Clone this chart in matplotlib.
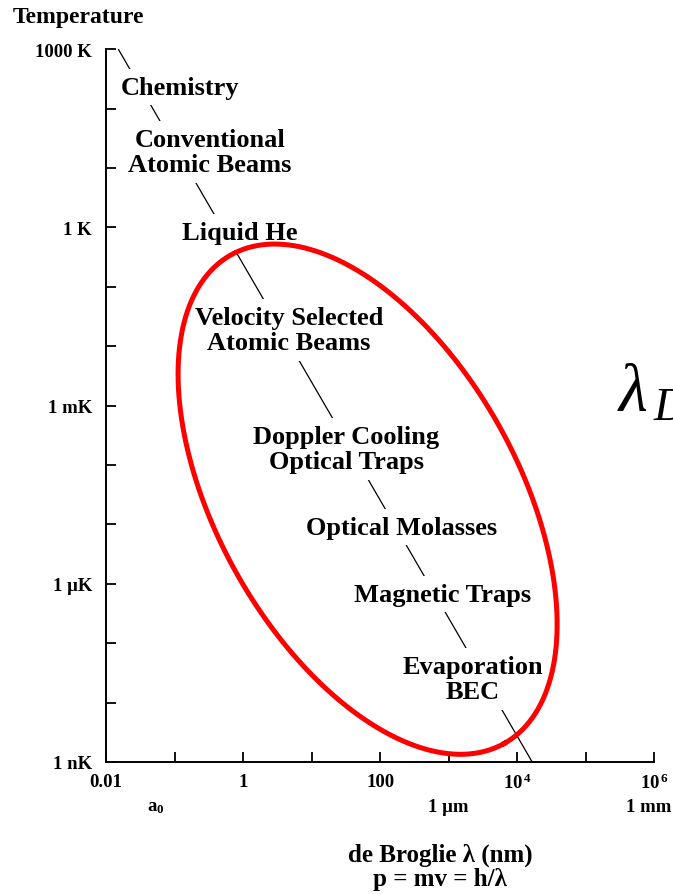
import numpy as np
import matplotlib
matplotlib.use("Agg")
import matplotlib.pyplot as plt
from matplotlib.transforms import blended_transform_factory

plt.rcParams['font.family'] = ['Liberation Serif', 'DejaVu Serif']
plt.rcParams['mathtext.fontset'] = 'custom'
plt.rcParams['mathtext.rm'] = 'Liberation Serif'
plt.rcParams['mathtext.bf'] = 'Liberation Serif:bold'
plt.rcParams['mathtext.it'] = 'Liberation Serif:italic'

# ---- data ----
line_T = [1e3, 1e-9]                 # K
line_lam = [0.0151, 1.66e4]          # nm

labels = ["Chemistry", "Conventional\nAtomic Beams", "Liquid He",
          "Velocity Selected\nAtomic Beams", "Doppler Cooling\nOptical Traps",
          "Optical Molasses", "Magnetic Traps", "Evaporation\nBEC"]
label_lam = [0.12, 0.33, 0.90, 4.7, 31.9, 209, 803, 2280]
label_T = [229, 18.4, 0.83, 0.0186, 1.85e-4, 9.0e-6, 6.7e-7, 2.5e-8]

y_ticks = [1e3, 1e2, 1e1, 1e0, 1e-1, 1e-2, 1e-3, 1e-4, 1e-5, 1e-6, 1e-7, 1e-8, 1e-9]
y_ticklabels = ["1000 K", "", "", "1 K", "", "", "1 mK", "", "", "1 \u03bcK", "", "", "1 nK"]
x_ticks = [1e-2, 1e-1, 1e0, 1e1, 1e2, 1e3, 1e4, 1e5, 1e6]
x_ticklabels = ["0.01", "", "1", "", "100", "", r"$\mathbf{10^{\,4}}$", "", r"$\mathbf{10^{\,6}}$"]
x_units_pos = [0.0529, 1e3, 1e6]
x_units_lab = [r"$\mathbf{a_{0}}$", "1 \u03bcm", "1 mm"]

# highlight ellipse in log10 decades: centre, and two conjugate half-axis vectors
ell_center = (1.818, -4.576)
ell_u = (1.993, -4.113)
ell_v = (1.918, 1.236)

# ---- figure ----
fig = plt.figure(figsize=(6.73, 8.95), dpi=100)
ax = fig.add_axes([0.1575, 0.1475, 0.8145, 0.7965])
ax.set_xscale('log')
ax.set_yscale('log')
ax.set_xlim(1e-2, 1e6)
ax.set_ylim(1e-9, 1e3)

for s in ['top', 'right']:
    ax.spines[s].set_visible(False)
for s in ['left', 'bottom']:
    ax.spines[s].set_linewidth(1.4)

ax.set_yticks(y_ticks)
ax.set_yticklabels(y_ticklabels)
ax.set_xticks(x_ticks)
ax.set_xticklabels(x_ticklabels)
ax.minorticks_off()
ax.tick_params(axis='both', which='major', direction='in', length=7, width=1.3,
               labelsize=13.5)
ax.tick_params(axis='y', pad=10)
ax.tick_params(axis='x', pad=8)
for t in ax.get_xticklabels() + ax.get_yticklabels():
    t.set_fontweight('bold')

ax.plot(line_lam, line_T, color='black', lw=0.9, zorder=2, solid_capstyle='butt')

for txt, lx, ty in zip(labels, label_lam, label_T):
    ax.text(lx, ty, txt, ha='center', va='center', multialignment='center',
            fontsize=19, fontweight='bold', linespacing=1.13, zorder=3,
            bbox=dict(boxstyle='square,pad=0.25', fc='white', ec='none'))

t = np.linspace(0, 2 * np.pi, 400)
ex = ell_center[0] + ell_u[0] * np.cos(t) + ell_v[0] * np.sin(t)
ey = ell_center[1] + ell_u[1] * np.cos(t) + ell_v[1] * np.sin(t)
ax.plot(10 ** ex, 10 ** ey, color='#ff0000', lw=3.6, zorder=4, clip_on=False)

trans = blended_transform_factory(ax.transData, ax.transAxes)
x_offsets = [0, 0, -4]
for px, lab, dx in zip(x_units_pos, x_units_lab, x_offsets):
    ax.annotate(lab, xy=(px, 0), xycoords=trans, xytext=(dx, -32),
                textcoords='offset points', ha='center', va='center',
                fontsize=13.5, fontweight='bold', annotation_clip=False)

fig.text(13 / 673, 1 - 18 / 895, "Temperature", ha='left', va='center',
         fontsize=17, fontweight='bold')
fig.text(440 / 673, 1 - 855 / 895, "de Broglie \u03bb (nm)", ha='center', va='center',
         fontsize=18, fontweight='bold')
fig.text(440 / 673, 1 - 880 / 895, "p = mv = h/\u03bb", ha='center', va='center',
         fontsize=18, fontweight='bold')
fig.text(617 / 673, 1 - 395 / 895, r"$\lambda_{\,D}$", ha='left', va='center', fontsize=48)

fig.savefig("out.png", dpi=100)
